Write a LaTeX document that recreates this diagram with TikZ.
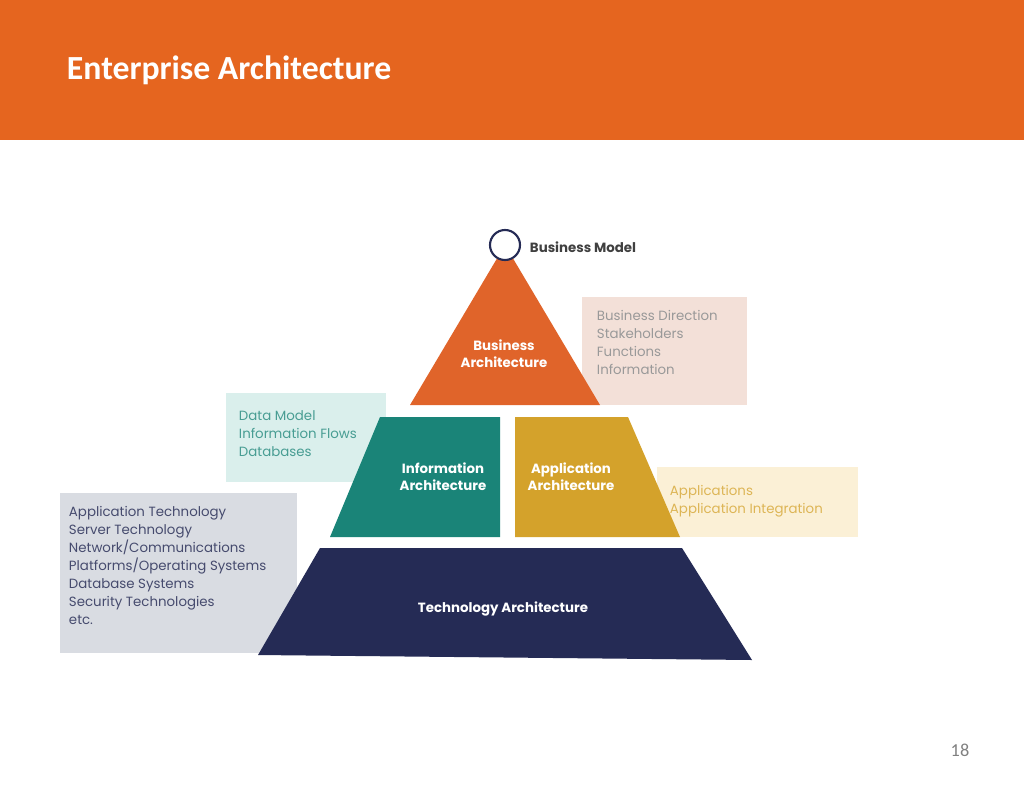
\documentclass[tikz,border=0pt]{standalone}
\usepackage{fontspec}
\setmainfont{Poppins}
\newfontfamily\titlefont{Carlito}
\definecolor{hdrorange}{HTML}{E5651F}
\definecolor{busorange}{HTML}{E0642A}
\definecolor{infoteal}{HTML}{1A8478}
\definecolor{appgold}{HTML}{D4A22B}
\definecolor{technavy}{HTML}{252B55}
\definecolor{buslight}{HTML}{F3E0D8}
\definecolor{infolight}{HTML}{DAEFEC}
\definecolor{applight}{HTML}{FBF0D6}
\definecolor{techlight}{HTML}{D9DCE2}
\tikzset{
  layertext/.style={text=white, font=\fontsize{9.5}{12}\selectfont\bfseries, align=center},
  sidetext/.style={anchor=north west, align=left, font=\fontsize{9.5}{12.8}\selectfont}
}
\begin{document}
\begin{tikzpicture}[x=0.025cm, y=-0.025cm]
    \useasboundingbox (0,0) rectangle (1024,791);
    \fill[white] (0,0) rectangle (1024,791);

    % header
    \fill[hdrorange] (0,0) rectangle (1024,140);
    \node[anchor=west, text=white, font=\titlefont\fontsize{24}{28}\selectfont\bfseries] (title) at (62,70) {Enterprise Architecture};

    % side boxes
    \fill[buslight] (582,297) rectangle (747,405);
    \node[sidetext, text=black!40] (busitems) at (592,305) {Business Direction\\Stakeholders\\Functions\\Information};
    \fill[infolight] (226,393) rectangle (386,482);
    \node[sidetext, text=infoteal!80] (infoitems) at (234,406) {Data Model\\Information Flows\\Databases};
    \fill[applight] (657,467) rectangle (858,537);
    \node[sidetext, text=appgold!80] (appitems) at (665,480) {Applications\\Application Integration};
    \fill[techlight] (60,493) rectangle (297,653);
    \node[sidetext, text=technavy!85] (techitems) at (64,501) {Application Technology\\Server Technology\\Network/Communications\\Platforms/Operating Systems\\Database Systems\\Security Technologies\\etc.};

    % pyramid
    \fill[busorange] (505,245) -- (600,405) -- (410,405) -- cycle;
    \fill[infoteal] (380,417) -- (500,417) -- (500,537) -- (330,537) -- cycle;
    \fill[appgold] (515,417) -- (628,417) -- (680,537) -- (515,537) -- cycle;
    \fill[technavy] (320,548) -- (682,548) -- (752,660) -- (258,655) -- cycle;

    \node[layertext] (busarch) at (504,354) {Business\\Architecture};
    \node[layertext] (infoarch) at (443,477) {Information\\Architecture};
    \node[layertext] (apparch) at (571,477) {Application\\Architecture};
    \node[layertext] (techarch) at (503,609) {Technology Architecture};

    \draw[technavy, line width=1.5pt, fill=white] (505,245) circle (15);
    \node[anchor=west, text=black!75, font=\fontsize{9.5}{12}\selectfont\bfseries] (busmodel) at (525,247) {Business Model};

    \node[text=black!50, font=\titlefont\fontsize{13}{15}\selectfont] (pagenum) at (960,750) {18};
\end{tikzpicture}
\end{document}
